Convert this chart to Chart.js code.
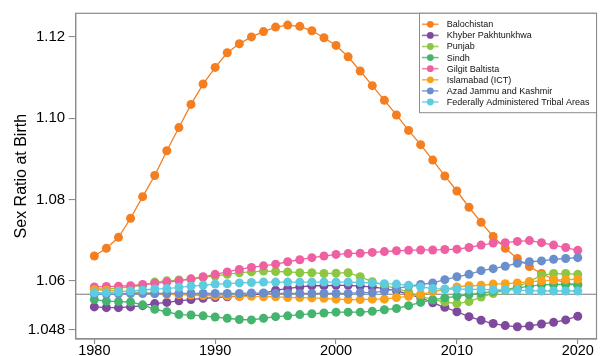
<!DOCTYPE html>
<html>
<head>
<meta charset="utf-8">
<script src="https://cdn.jsdelivr.net/npm/chart.js@4.4.1/dist/chart.umd.min.js"></script>
<style>
  html, body { margin: 0; padding: 0; background: #ffffff; }
  #wrap { width: 601px; height: 356px; }
</style>
</head>
<body>
<div id="wrap"><canvas id="srb" width="601" height="356"></canvas></div>
<script>
// Sex ratio at birth (males per female) by region, 1980-2020
const years = [1980, 1981, 1982, 1983, 1984, 1985, 1986, 1987, 1988, 1989,
               1990, 1991, 1992, 1993, 1994, 1995, 1996, 1997, 1998, 1999,
               2000, 2001, 2002, 2003, 2004, 2005, 2006, 2007, 2008, 2009,
               2010, 2011, 2012, 2013, 2014, 2015, 2016, 2017, 2018, 2019, 2020];

const balochistan = [1.0661, 1.0680, 1.0707, 1.0754, 1.0807, 1.0859, 1.0920, 1.0977, 1.1034, 1.1084,
                     1.1125, 1.1161, 1.1183, 1.1200, 1.1213, 1.1224, 1.1229, 1.1226, 1.1215, 1.1198,
                     1.1179, 1.1151, 1.1116, 1.1080, 1.1044, 1.1008, 1.0970, 1.0935, 1.0897, 1.0858,
                     1.0821, 1.0781, 1.0744, 1.0709, 1.0680, 1.0655, 1.0635, 1.0618, 1.0604, 1.0595, 1.0589];

const khyberPakhtunkhwa = [1.0536, 1.0534, 1.0534, 1.0536, 1.0539, 1.0544, 1.0547, 1.0551, 1.0554, 1.0557,
                           1.0559, 1.0561, 1.0562, 1.0565, 1.0569, 1.0577, 1.0581, 1.0585, 1.0588, 1.0588,
                           1.0589, 1.0589, 1.0587, 1.0585, 1.0581, 1.0576, 1.0567, 1.0559, 1.0546, 1.0535,
                           1.0524, 1.0512, 1.0503, 1.0495, 1.0490, 1.0487, 1.0489, 1.0494, 1.0498, 1.0504, 1.0513];

const punjab = [1.0580, 1.0580, 1.0582, 1.0585, 1.0589, 1.0597, 1.0600, 1.0602, 1.0604, 1.0608,
                1.0612, 1.0616, 1.0620, 1.0622, 1.0624, 1.0623, 1.0622, 1.0620, 1.0620, 1.0618,
                1.0619, 1.0620, 1.0610, 1.0598, 1.0589, 1.0581, 1.0573, 1.0562, 1.0554, 1.0548,
                1.0544, 1.0549, 1.0560, 1.0569, 1.0577, 1.0585, 1.0598, 1.0614, 1.0618, 1.0618, 1.0616];

const sindh = [1.0554, 1.0550, 1.0549, 1.0548, 1.0541, 1.0530, 1.0524, 1.0517, 1.0516, 1.0514,
               1.0511, 1.0508, 1.0505, 1.0504, 1.0508, 1.0512, 1.0514, 1.0517, 1.0519, 1.0521,
               1.0523, 1.0523, 1.0523, 1.0525, 1.0529, 1.0532, 1.0539, 1.0547, 1.0553, 1.0558,
               1.0562, 1.0566, 1.0570, 1.0574, 1.0578, 1.0582, 1.0587, 1.0590, 1.0591, 1.0591, 1.0591];

const gilgitBaltista = [1.0585, 1.0586, 1.0587, 1.0588, 1.0591, 1.0594, 1.0597, 1.0600, 1.0605, 1.0610,
                        1.0616, 1.0622, 1.0628, 1.0633, 1.0637, 1.0641, 1.0647, 1.0652, 1.0657, 1.0661,
                        1.0665, 1.0667, 1.0668, 1.0670, 1.0672, 1.0674, 1.0675, 1.0676, 1.0676, 1.0677,
                        1.0678, 1.0682, 1.0688, 1.0693, 1.0694, 1.0697, 1.0699, 1.0694, 1.0688, 1.0682, 1.0675];

const islamabad = [1.0578, 1.0577, 1.0575, 1.0573, 1.0571, 1.0569, 1.0567, 1.0566, 1.0565, 1.0564,
                   1.0563, 1.0563, 1.0562, 1.0562, 1.0561, 1.0561, 1.0559, 1.0559, 1.0558, 1.0557,
                   1.0555, 1.0554, 1.0554, 1.0555, 1.0555, 1.0559, 1.0562, 1.0567, 1.0573, 1.0579,
                   1.0585, 1.0588, 1.0589, 1.0592, 1.0593, 1.0595, 1.0598, 1.0600, 1.0602, 1.0603, 1.0604];

const azadJammuKashmir = [1.0567, 1.0567, 1.0568, 1.0569, 1.0569, 1.0569, 1.0569, 1.0569, 1.0569, 1.0569,
                          1.0569, 1.0569, 1.0569, 1.0570, 1.0570, 1.0569, 1.0569, 1.0569, 1.0569, 1.0569,
                          1.0569, 1.0569, 1.0571, 1.0571, 1.0575, 1.0581, 1.0587, 1.0591, 1.0595, 1.0603,
                          1.0610, 1.0616, 1.0625, 1.0630, 1.0636, 1.0643, 1.0647, 1.0649, 1.0653, 1.0655, 1.0657];

const fata = [1.0571, 1.0571, 1.0573, 1.0575, 1.0577, 1.0580, 1.0581, 1.0584, 1.0587, 1.0589,
              1.0592, 1.0593, 1.0595, 1.0596, 1.0597, 1.0597, 1.0597, 1.0597, 1.0597, 1.0597,
              1.0597, 1.0597, 1.0596, 1.0595, 1.0593, 1.0592, 1.0589, 1.0585, 1.0581, 1.0580,
              1.0580, 1.0579, 1.0579, 1.0578, 1.0578, 1.0577, 1.0576, 1.0575, 1.0575, 1.0575, 1.0575];

const regionNames = ['Balochistan', 'Khyber Pakhtunkhwa', 'Punjab', 'Sindh', 'Gilgit Baltista',
                     'Islamabad (ICT)', 'Azad Jammu and Kashmir', 'Federally Administered Tribal Areas'];
const regionSeries = [balochistan, khyberPakhtunkhwa, punjab, sindh, gilgitBaltista,
                      islamabad, azadJammuKashmir, fata];
const regionColors = ['#F47E20', '#7F4A9E', '#8DC63F', '#45B46E', '#EF60A3',
                      '#F9A11B', '#6B8FCD', '#5ECCE0'];

// Horizontal reference level
const referenceRatio = 1.0567;

// Axis ticks
const xTickValues = [1980, 1990, 2000, 2010, 2020];
const yTickValues = [1.048, 1.06, 1.08, 1.10, 1.12];
const yTickLabels = ['1.048', '1.06', '1.08', '1.10', '1.12'];

const FONT = '"Liberation Sans", Arial, Helvetica, sans-serif';
const FRAME = '#8c8c8c';

const datasets = regionNames.map((name, i) => ({
  label: name,
  data: years.map((yr, k) => ({ x: yr, y: regionSeries[i][k] })),
  borderColor: regionColors[i],
  backgroundColor: regionColors[i],
  pointBackgroundColor: regionColors[i],
  pointBorderColor: regionColors[i],
  borderWidth: 1.3,
  pointRadius: 4.5,
  pointBorderWidth: 0,
  tension: 0,
  // later regions sit on top of earlier ones
  order: regionNames.length - i
}));

const frameAndGuides = {
  id: 'frameAndGuides',
  beforeDatasetsDraw(chart) {
    const { ctx, chartArea: ca, scales } = chart;
    const y = scales.y.getPixelForValue(referenceRatio);
    ctx.save();
    ctx.strokeStyle = '#7a7a7a';
    ctx.lineWidth = 1.1;
    ctx.beginPath();
    ctx.moveTo(ca.left, y);
    ctx.lineTo(ca.right, y);
    ctx.stroke();
    ctx.restore();
  },
  afterDraw(chart) {
    const { ctx, chartArea: ca } = chart;
    ctx.save();
    ctx.strokeStyle = FRAME;
    ctx.lineWidth = 1.2;
    ctx.strokeRect(ca.left, ca.top, ca.right - ca.left, ca.bottom - ca.top);

    // legend box in the upper right corner
    const w = 177, h = 99.4;
    const x0 = ca.right - w, y0 = ca.top;
    ctx.fillStyle = '#ffffff';
    ctx.fillRect(x0, y0, w, h);
    ctx.strokeStyle = FRAME;
    ctx.lineWidth = 1;
    ctx.strokeRect(x0, y0, w, h);

    ctx.font = '9px ' + FONT;
    ctx.textBaseline = 'middle';
    ctx.textAlign = 'left';
    chart.data.datasets.forEach((ds, i) => {
      const cy = y0 + 11 + i * 11.1;
      ctx.strokeStyle = ds.borderColor;
      ctx.globalAlpha = 0.8;
      ctx.lineWidth = 1.6;
      ctx.beginPath();
      ctx.moveTo(x0 + 2.5, cy);
      ctx.lineTo(x0 + 19, cy);
      ctx.stroke();
      ctx.globalAlpha = 1;
      ctx.fillStyle = ds.borderColor;
      ctx.beginPath();
      ctx.arc(x0 + 10.8, cy, 3.4, 0, Math.PI * 2);
      ctx.fill();
      ctx.fillStyle = '#111111';
      ctx.fillText(ds.label, x0 + 27.3, cy + 0.5);
    });
    ctx.restore();
  }
};

new Chart(document.getElementById('srb'), {
  type: 'line',
  data: { datasets },
  plugins: [frameAndGuides],
  options: {
    responsive: false,
    animation: false,
    devicePixelRatio: 1,
    layout: { padding: { top: 13.3, right: 1.5, left: 0, bottom: 0 } },
    plugins: {
      legend: { display: false },
      tooltip: { enabled: false }
    },
    scales: {
      x: {
        type: 'linear',
        min: 1978.46,
        max: 2021.55,
        afterBuildTicks: (scale) => { scale.ticks = xTickValues.map(v => ({ value: v })); },
        afterFit: (scale) => { scale.height = 17; },
        ticks: {
          autoSkip: false,
          maxRotation: 0,
          padding: -2,
          color: '#000000',
          font: { family: FONT, size: 14.5 },
          callback: (v) => String(v)
        },
        grid: { drawOnChartArea: false, drawTicks: true, tickLength: 5, color: FRAME, lineWidth: 1.1 },
        border: { display: true, color: FRAME, width: 1.2 }
      },
      y: {
        type: 'linear',
        min: 1.0457,
        max: 1.1258,
        afterBuildTicks: (scale) => { scale.ticks = yTickValues.map(v => ({ value: v })); },
        afterFit: (scale) => { scale.width = 75.7; },
        ticks: {
          autoSkip: false,
          padding: 3.5,
          color: '#000000',
          font: { family: FONT, size: 15 },
          callback: (v) => {
            const k = yTickValues.findIndex(t => Math.abs(t - v) < 1e-9);
            return k >= 0 ? yTickLabels[k] : '';
          }
        },
        grid: { drawOnChartArea: false, drawTicks: true, tickLength: 7, color: FRAME, lineWidth: 1.1 },
        border: { display: true, color: FRAME, width: 1.2 },
        title: {
          display: true,
          text: 'Sex Ratio at Birth',
          color: '#000000',
          font: { family: FONT, size: 16 },
          padding: { top: 12.4, bottom: 0 }
        }
      }
    }
  }
});
</script>
</body>
</html>
